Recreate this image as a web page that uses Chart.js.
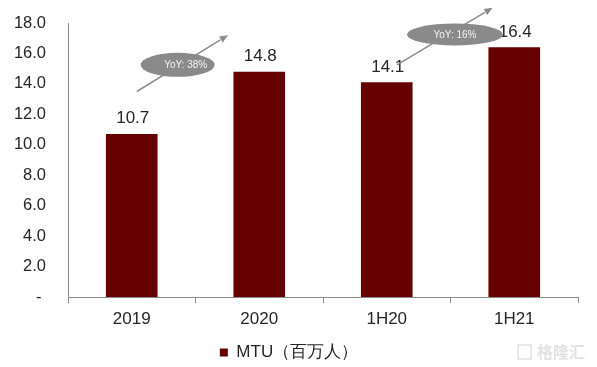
<!DOCTYPE html>
<html>
<head>
<meta charset="utf-8">
<script src="https://cdn.jsdelivr.net/npm/chart.js@4/dist/chart.umd.min.js"></script>
<style>
  html, body { margin: 0; padding: 0; background: #fff; }
  #wrap { width: 597px; height: 367px; }
</style>
</head>
<body>
<div id="wrap"><canvas id="chart"></canvas></div>
<script>
const categories = ["2019", "2020", "1H20", "1H21"];
const mtuValues = [10.7, 14.8, 14.1, 16.4];
const seriesLabel = "MTU（百万人）";
const yTicks = [0, 2, 4, 6, 8, 10, 12, 14, 16, 18];

// YoY callouts, placed in data units (category index, value)
const yoyNotes = [
  { text: "YoY: 38%", cx: 0.36, cy: 15.25, rx: 37, ry: 12, dx: 8, from: [0.04, 13.5], to: [0.755, 17.2] },
  { text: "YoY: 16%", cx: 2.535, cy: 17.25, rx: 48, ry: 11, dx: 0, from: [2.08, 15.25], to: [2.83, 19.0] },
];

const barColor = "#650000";
const axisColor = "#8c8c8c";
const textColor = "#262626";
const fontFamily = "'Liberation Sans', Arial, sans-serif";

const overlayPlugin = {
  id: "overlay",
  afterDatasetsDraw(chart) {
    const { ctx, scales } = chart;
    const meta = chart.getDatasetMeta(0);
    ctx.save();
    // value labels
    ctx.fillStyle = textColor;
    ctx.font = "17px " + fontFamily;
    ctx.textAlign = "center";
    ctx.textBaseline = "bottom";
    meta.data.forEach((bar, i) => {
      ctx.fillText(mtuValues[i].toFixed(1), bar.x + 1, bar.y - 7);
    });

    // YoY arrows and ellipses
    yoyNotes.forEach((note) => {
      const x1 = scales.x.getPixelForValue(note.from[0]);
      const y1 = scales.y.getPixelForValue(note.from[1]);
      const x2 = scales.x.getPixelForValue(note.to[0]);
      const y2 = scales.y.getPixelForValue(note.to[1]);
      ctx.strokeStyle = axisColor;
      ctx.fillStyle = axisColor;
      ctx.lineWidth = 1.5;
      const ang = Math.atan2(y2 - y1, x2 - x1);
      const head = 9;
      ctx.beginPath();
      ctx.moveTo(x1, y1);
      ctx.lineTo(x2 - Math.cos(ang) * head, y2 - Math.sin(ang) * head);
      ctx.stroke();
      ctx.beginPath();
      ctx.moveTo(x2, y2);
      ctx.lineTo(x2 - head * Math.cos(ang - 0.4), y2 - head * Math.sin(ang - 0.4));
      ctx.lineTo(x2 - head * Math.cos(ang + 0.4), y2 - head * Math.sin(ang + 0.4));
      ctx.closePath();
      ctx.fill();

      const cx = scales.x.getPixelForValue(note.cx);
      const cy = scales.y.getPixelForValue(note.cy);
      ctx.beginPath();
      ctx.ellipse(cx, cy, note.rx, note.ry, 0, 0, Math.PI * 2);
      ctx.fillStyle = "#8a8a8a";
      ctx.fill();
      ctx.fillStyle = "#f4f4f4";
      ctx.font = "10px " + fontFamily;
      ctx.textBaseline = "middle";
      ctx.fillText(note.text, cx + note.dx, cy + 0.5);
    });

    // faint watermark
    ctx.fillStyle = "#e2e2e2";
    ctx.font = "bold 16px 'Noto Sans CJK SC', sans-serif";
    ctx.textAlign = "left";
    ctx.textBaseline = "middle";
    ctx.fillText("格隆汇", 537, 352);
    ctx.strokeStyle = "#e2e2e2";
    ctx.lineWidth = 1.5;
    ctx.strokeRect(518, 345, 13, 14);
    ctx.restore();
  },
};

new Chart(document.getElementById("chart"), {
  type: "bar",
  data: {
    labels: categories,
    datasets: [
      {
        label: seriesLabel,
        data: mtuValues,
        backgroundColor: barColor,
        borderWidth: 0,
        categoryPercentage: 1,
        barPercentage: 0.405,
      },
    ],
  },
  options: {
    responsive: true,
    maintainAspectRatio: false,
    animation: false,
    layout: { padding: { top: 23, right: 19, left: 0, bottom: -4 } },
    plugins: {
      tooltip: { enabled: false },
      legend: {
        position: "bottom",
        labels: {
          boxWidth: 8,
          boxHeight: 8,
          padding: 1,
          color: textColor,
          font: { family: fontFamily, size: 17 },
        },
      },
    },
    scales: {
      x: {
        afterFit(scale) {
          scale.height = 46;
        },
        grid: {
          display: true,
          offset: true,
          drawOnChartArea: false,
          drawTicks: true,
          tickLength: 6,
          color: axisColor,
        },
        border: { display: true, color: axisColor, width: 1 },
        ticks: {
          color: textColor,
          padding: 6,
          font: { family: fontFamily, size: 17 },
        },
      },
      y: {
        min: 0,
        max: 18,
        afterBuildTicks(scale) {
          scale.ticks = yTicks.map((v) => ({ value: v }));
        },
        afterFit(scale) {
          scale.width = 68;
          scale.paddingTop = 0;
          scale.paddingBottom = 0;
        },
        grid: { display: false, drawTicks: false },
        border: { display: true, color: axisColor, width: 1 },
        ticks: {
          color: textColor,
          padding: 22,
          font: { family: fontFamily, size: 16.5 },
          callback: (v) => (v === 0 ? "- " : v.toFixed(1)),
        },
      },
    },
  },
  plugins: [overlayPlugin],
});
</script>
</body>
</html>
